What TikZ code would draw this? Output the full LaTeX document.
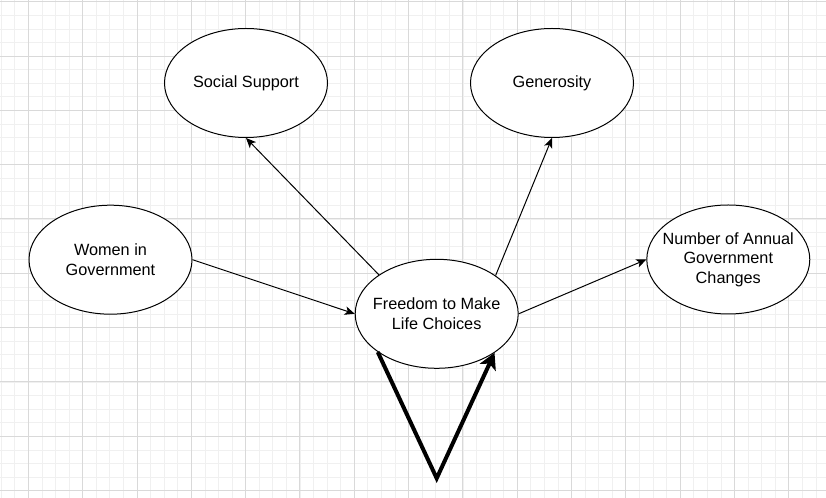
\documentclass[tikz,border=0pt]{standalone}
\usepackage{fontspec}
\setmainfont{Liberation Sans}
\usetikzlibrary{shapes.geometric,arrows.meta}

\begin{document}
\begin{tikzpicture}[x=0.75pt,y=0.75pt,yscale=-1,xscale=1,
    minorline/.style={draw=black!6, line width=0.5pt},
    majorline/.style={draw=black!15, line width=0.6pt},
    bubble/.style={ellipse, draw, line width=0.75pt, fill=white, minimum width=122.25pt, minimum height=81.75pt, inner sep=0pt, inner xsep=-8pt, align=center, font=\fontsize{12.2}{14.6}\selectfont},
    link/.style={-{Stealth[length=7.5pt,width=6.5pt,inset=2pt]}, line width=0.75pt},
    loopline/.style={-{Stealth[length=12pt,width=13pt,inset=3pt]}, line width=3pt}]
    \useasboundingbox (0,0) rectangle (826,498);
    
    %Grid
    \fill[white] (0,0) rectangle (826,498);
    \begin{scope}
    \clip (0,0) rectangle (826,498);
    \foreach \gx in {1.14,14.72,...,826} \draw[minorline] (\gx,0) -- (\gx,498);
    \foreach \gy in {1.7,15.28,...,498} \draw[minorline] (0,\gy) -- (826,\gy);
    \foreach \gx in {28.3,82.6,...,826} \draw[majorline] (\gx,0) -- (\gx,498);
    \foreach \gy in {1.7,56,...,498} \draw[majorline] (0,\gy) -- (826,\gy);
    \end{scope}
    
    % Ellipses
    \node [bubble] (social) at (246,83) {Social Support};
    \node [bubble] (generosity) at (552,83) {Generosity};
    \node [bubble] (women) at (110.5,259.7) {Women in\\Government};
    \node [bubble] (changes) at (728.3,259.5) {Number of Annual\\Government\\Changes};
    \node [bubble] (freedom) at (436.7,313.8) {Freedom to Make\\Life Choices};
    \coordinate (loopbase) at (436.7,478.3);
    
    % Connectors
    \draw [link] (freedom.146.5) -- (social.south);
    \draw [link] (freedom.33.5) -- (generosity.south);
    \draw [link] (women.east) -- (freedom.west);
    \draw [link] (freedom.east) -- (changes.west);
    \draw [loopline] (freedom.213.5) -- (loopbase) -- (freedom.326.5);
    
\end{tikzpicture}
\end{document}
